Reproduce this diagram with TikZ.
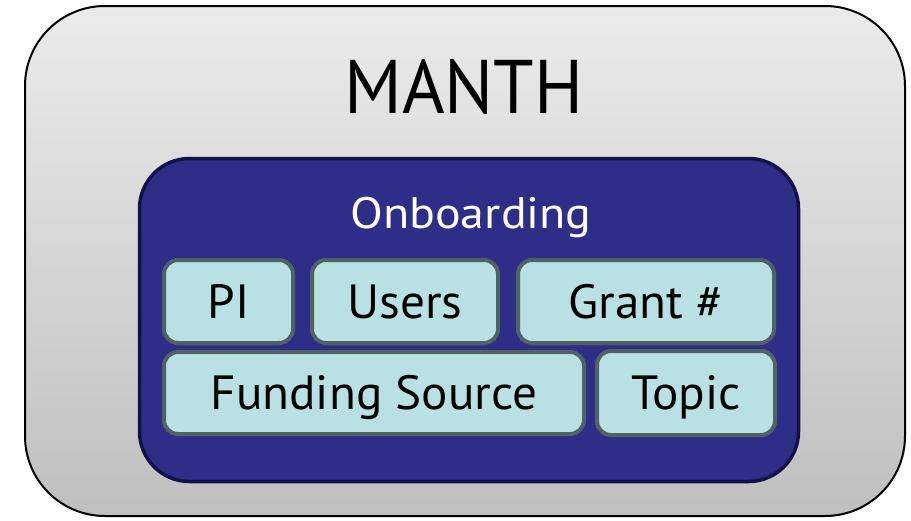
\documentclass[tikz,border=0pt]{standalone}
\usepackage{fontspec}
\setmainfont{PT Sans}
\newfontfamily\titlefont[FakeStretch=0.96]{PT Sans}
\newfontfamily\subfont[FakeStretch=1.09]{PT Sans}
\newfontfamily\boxfont[FakeStretch=1.025]{PT Sans}
\definecolor{outerTop}{HTML}{EBEBEB}
\definecolor{outerBot}{HTML}{BFBFBF}
\definecolor{innerFill}{HTML}{2E2D88}
\definecolor{innerLine}{HTML}{12124A}
\definecolor{boxFill}{HTML}{B9E0E3}
\definecolor{boxLine}{HTML}{4F6365}
\tikzset{
  outerbox/.style={draw=black, line width=2pt, top color=outerTop, bottom color=outerBot, rounded corners=80pt, inner sep=0pt},
  innerbox/.style={draw=innerLine, fill=innerFill, line width=3.5pt, rounded corners=50pt, inner sep=0pt},
  smallbox/.style={draw=boxLine, fill=boxFill, line width=4pt, rounded corners=14pt, inner sep=0pt},
  boxtext/.style={font=\boxfont\fontsize{48}{50}\selectfont, text height=33pt, text depth=0pt, inner sep=0pt},
}
\begin{document}
\begin{tikzpicture}[x=1pt,y=-1pt]
\useasboundingbox (0,0) rectangle (911,520);
\node[outerbox, minimum width=880pt, minimum height=510pt] (manth) at (465,261) {};
\node[font=\titlefont\fontsize{76}{78}\selectfont, text height=53pt, text depth=0pt, inner sep=0pt] (manthlbl) at (464,86.5) {MANTH};
\node[innerbox, minimum width=659pt, minimum height=323pt] (onb) at (469,320) {};
\node[font=\subfont\fontsize{44}{46}\selectfont, text=white, text height=31pt, text depth=0pt, inner sep=0pt] (onblbl) at (471,212.5) {Onboarding};
\node[smallbox, minimum width=129pt, minimum height=83pt] (pi) at (228.5,301.5) {};
\node[boxtext] (pilbl) at (pi) {PI};
\node[smallbox, minimum width=186pt, minimum height=83pt] (users) at (405,301.5) {};
\node[boxtext] (userslbl) at (users) {Users};
\node[smallbox, minimum width=256pt, minimum height=83pt] (grant) at (646,301.5) {};
\node[boxtext] (grantlbl) at (grant) {Grant \#};
\node[smallbox, minimum width=420pt, minimum height=82pt] (funding) at (374,393) {};
\node[boxtext] (fundinglbl) at (funding) {Funding Source};
\node[smallbox, minimum width=178pt, minimum height=84pt] (topic) at (686,393) {};
\node[boxtext] (topiclbl) at (topic) {Topic};
\end{tikzpicture}
\end{document}
